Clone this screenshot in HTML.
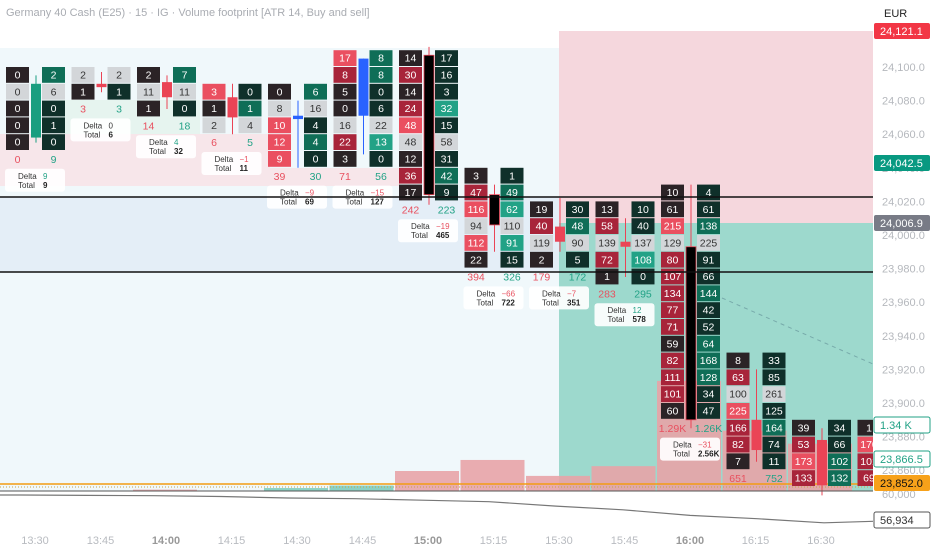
<!DOCTYPE html>
<html><head><meta charset="utf-8"><style>
html,body{margin:0;padding:0;background:#fff;}
svg{display:block;font-family:"Liberation Sans",sans-serif;}
</style></head><body>
<svg id="c" width="932" height="550" viewBox="0 0 932 550">
<rect x="0" y="0" width="932" height="550" fill="#fff"/>
<g id="bg"></g>
<g id="vol"></g>
<g id="cells"></g>
<g id="candles"></g>
<g id="axis"></g>
<text x="6" y="16" font-size="11" fill="#a9acb2">Germany 40 Cash (E25) · 15 · IG · Volume footprint [ATR 14, Buy and sell]</text>
<text x="884" y="17" font-size="11" fill="#222">EUR</text>
</svg>
<script>
const times=["13:30","13:45","14:00","14:15","14:30","14:45","15:00","15:15","15:30","15:45","16:00","16:15","16:30","16:45"];
const boldTimes=["14:00","15:00","16:00"];
const barTop=[24100,24100,24100,24090,24090,24110,24110,24040,24020,24020,24030,23930,23890,23890];
const sells=[[0,0,0,0,0],[2,1],[2,11,1],[3,1,2],[0,8,10,12,9],[17,8,5,0,16,22,3],[14,30,14,24,48,48,12,36,17],[3,47,116,94,112,22],[19,40,119,2],[13,58,139,72,1],[10,61,215,129,80,107,134,77,71,59,82,111,101,60],[8,63,100,225,166,82,7],[39,53,173,133],[1,170,101,69]];
const buys=[[2,6,0,1,0],[2,1],[7,11,0],[0,1,4],[6,16,4,4,0],[8,8,0,6,22,13,0],[17,16,3,32,15,58,31,42,9],[1,49,62,110,91,15],[30,48,90,5],[10,40,137,108,0],[4,61,138,225,91,66,144,42,52,64,168,128,34,47],[33,85,261,125,164,74,11],[34,66,102,132],[]];
const sellCol=["dgddd","gd","dgd","Rdg","dgRRR","Rrddgrd","drdrRgdrd","drRgRd","drgd","drgrd","ddRgrrrrrdrrrd","drgRrrd","drRr","dRrr"];
const buyCol=["ngddd","gd","ngd","dng","ngdnd","nnddgNd","dddNdgdnd","dnNgNd","dngd","ddgNd","ddngddnddnnndd","ddgdndd","ddnn",""];
const sellTot=["0","3","14","6","39","71","242","394","179","283","1.29K","651","",""];
const buyTot=["9","3","18","5","30","56","223","326","172","295","1.26K","752","",""];
const deltas=["9","0","4","−1","−9","−15","−19","−66","−7","12","−31","","",""];
const totals=["9","6","32","11","69","127","465","722","351","578","2.56K","","",""];
const opens=[24058,24090,24091,24082,24071,24071,24107,24024,24005,23996,23993,23890,23878];
const closes=[24090,24088,24082,24070,24069,24105,24024,24006,23996,23993,23890,23872,23851];
const highs=[24095,24097,24095,24090,24080,24105,24112,24030,24022,24010,24030,23920,23885];
const lows=[24055,24085,24075,24060,24040,24048,24018,23990,23990,23975,23885,23865,23845];
const volumes=[9,6,32,11,69,127,465,722,351,578,2560,1403,1100];
const priceTicks=[24100,24080,24060,24040,24020,24000,23980,23960,23940,23920,23900,23880,23860];
const lowerPane=[56,55.9,55.8,55.6,55.2,55.0,54.6,54.2,53.0,52.0,50.5,49.6,48.5,48.9];

const NS="http://www.w3.org/2000/svg";
function el(tag,attrs,parent,txt){const e=document.createElementNS(NS,tag);for(const k in attrs)e.setAttribute(k,attrs[k]);if(txt!==undefined)e.textContent=txt;document.getElementById(parent).appendChild(e);return e;}
const PX=1.68;
const y=p=>67+(24100-p)*PX;
const tx=i=>35+i*65.5;
const PLOT_R=873, PLOT_B=491;
const sc={d:"#2b2326",r:"#a8243a",R:"#ea4f60",g:"#d3d6d9"};
const bc={d:"#0f302a",n:"#0f6e57",N:"#22a286",g:"#d3d6d9"};

// backgrounds
let e;
e=el("rect",{x:0,y:48,width:PLOT_R,height:PLOT_B-48,fill:"#f0f8fb"},"bg");

e=el("rect",{x:0,y:134,width:270,height:52,fill:"#f7e6ea"},"bg");

e=el("rect",{x:270,y:168,width:130,height:18,fill:"#f7e6ea"},"bg");

e=el("rect",{x:60,y:100,width:140,height:34,fill:"#e6f4ef"},"bg");

e=el("rect",{x:0,y:197,width:559,height:75,fill:"#e4eef7"},"bg");

e=el("rect",{x:559,y:31,width:PLOT_R-559,height:192,fill:"#f5d7dd"},"bg");

e=el("rect",{x:559,y:223,width:PLOT_R-559,height:PLOT_B-223,fill:"#9dd9cd"},"bg");


// volume
const VS=0.043;
volumes.forEach((v,i)=>{
  const h=v*VS; const d=deltas[i];
  const r=el("rect",{x:tx(i)-33,y:PLOT_B-h,width:64,height:h,fill:(i>=4&&i<=5)?"#7fcdbf":"#e8a3a7",opacity:0.9},"vol");
  
});
e=el("line",{x1:0,y1:484,x2:PLOT_R,y2:484,stroke:"#f39c12","stroke-width":1.5},"vol");

e=el("line",{x1:0,y1:487,x2:PLOT_R,y2:487,stroke:"#c9a24a","stroke-width":1,"stroke-dasharray":"1,2"},"vol");


// cells
const CW=23,CH=15.8;
for(let i=0;i<times.length;i++){
  const top=barTop[i]; const sx=tx(i)-29, bx=tx(i)+7;
  const addCell=(x,k,val,col,pal,nm)=>{
    const yy=y(top-10*k);
    if(yy>PLOT_B-2) return;
    const c=pal[col]||pal.d;
    const w=Math.min(CW,PLOT_R-x); if(w<=0) return;
    const h=Math.min(CH,PLOT_B-yy);
    const r=el("rect",{x:x,y:yy,width:w,height:h,fill:c},"cells");
    
    if(h>10&&w>12){const t=el("text",{x:x+CW/2,y:yy+11.5,"font-size":10.5,"text-anchor":"middle",fill:col==="g"?"#333":"#fff"},"cells",String(val));
    }
  };
  sells[i].forEach((v,k)=>addCell(sx,k,v,sellCol[i][k],sc,'sell-cell'));
  buys[i].forEach((v,k)=>addCell(bx,k,v,buyCol[i][k],bc,'buy-cell'));
  const n=Math.max(sells[i].length,buys[i].length);
  const fy=y(top-10*n)+12;
  if(sellTot[i]){const t=el("text",{x:sx+CW/2,y:fy,"font-size":10.5,"text-anchor":"middle",fill:"#e8505f"},"cells",sellTot[i]);
    }
  if(buyTot[i]){const t=el("text",{x:bx+CW/2,y:fy,"font-size":10.5,"text-anchor":"middle",fill:"#22a286"},"cells",buyTot[i]);
    }
  if(deltas[i]){
    const by=y(top-10*(n+1))+1;
    const g=el("g",{},"cells");
    
    const b=el("rect",{x:sx-1,y:by,width:60,height:23,rx:3,fill:"#fff",opacity:0.92},"cells");
    
    const neg=deltas[i].startsWith("−");
    let t=el("text",{x:sx+12,y:by+10,"font-size":8,fill:"#333"},"cells","Delta");
    
    t=el("text",{x:sx+37,y:by+10,"font-size":8,fill:neg?"#e8505f":(deltas[i]==="0"?"#333":"#22a286")},"cells",deltas[i]);
    
    t=el("text",{x:sx+12,y:by+19,"font-size":8,fill:"#333"},"cells","Total");
    
    t=el("text",{x:sx+37,y:by+19,"font-size":8,fill:"#222","font-weight":"bold"},"cells",totals[i]);
    
  }
}

// candles
opens.forEach((o,i)=>{
  const c=closes[i]; const cx=tx(i)+1;
  let col = c>o?"#1a9e80":"#ea4456";
  if(i===4||i===5) col="#2962ff";
  if(i===6||i===7||i===10) col="#000";
  const w=el("line",{x1:cx,y1:y(highs[i]),x2:cx,y2:y(lows[i]),stroke:col==="#000"?"#ea4456":col,"stroke-width":1},"candles");
  
  const t=y(Math.max(o,c)),h=Math.max(3,Math.abs(y(o)-y(c)));
  const b=el("rect",{x:cx-5,y:t,width:10,height:h,fill:col,stroke:col==="#000"?"#ea4456":"none","stroke-width":0.8},"candles");
  
});

// horizontal lines
e=el("line",{x1:0,y1:197,x2:PLOT_R,y2:197,stroke:"#111","stroke-width":1.5},"axis");

e=el("line",{x1:0,y1:272,x2:PLOT_R,y2:272,stroke:"#111","stroke-width":1.5},"axis");

e=el("line",{x1:722,y1:298,x2:PLOT_R,y2:364,stroke:"#7aa","stroke-width":1,"stroke-dasharray":"4,4"},"axis");


// lower pane
e=el("line",{x1:0,y1:PLOT_B,x2:PLOT_R,y2:PLOT_B,stroke:"#555","stroke-width":1},"axis");

const ly=v=>495+(56-v)*3.7;
let pts=lowerPane.map((v,i)=>`${(i*67).toFixed(0)},${ly(v).toFixed(1)}`);
pts=[`0,${ly(lowerPane[0])}`].concat(lowerPane.map((v,i)=>`${Math.min(PLOT_R,i*67+20)},${ly(v).toFixed(1)}`));
e=el("polyline",{points:pts.join(" "),fill:"none",stroke:"#777","stroke-width":1.2},"axis");


// price axis
priceTicks.forEach(p=>{
  const t=el("text",{x:882,y:y(p)+4,"font-size":11,fill:"#b5b8bd"},"axis",p.toLocaleString("en-US",{minimumFractionDigits:1}));
  
});
let t=el("text",{x:882,y:498,"font-size":11,fill:"#b5b8bd"},"axis","60,000");

const tags=[["24,121.1",31,"#f23645","#fff",null],["24,042.5",163,"#089981","#fff",null],["24,006.9",223,"#787b86","#fff",null],["1.34 K",425,"#fff","#22a286","#22a286"],["23,866.5",459,"#fff","#22a286","#22a286"],["23,852.0",483,"#f7a11a","#111",null],["56,934",520,"#fff","#333","#555"]];
tags.forEach(a=>{
  const r=el("rect",{x:874,y:a[1]-8,width:56,height:16,rx:2,fill:a[2],stroke:a[4]||"none"},"axis");
  
  const tt=el("text",{x:880,y:a[1]+4,"font-size":11,fill:a[3]},"axis",a[0]);
  
});

// time axis
times.slice(0,13).forEach((s,i)=>{
  const b=boldTimes.includes(s);
  const t=el("text",{x:tx(i),y:544,"font-size":11,"text-anchor":"middle",fill:b?"#999":"#b8bbc0","font-weight":b?"bold":"normal"},"axis",s);
  
});
</script>
</body></html>
